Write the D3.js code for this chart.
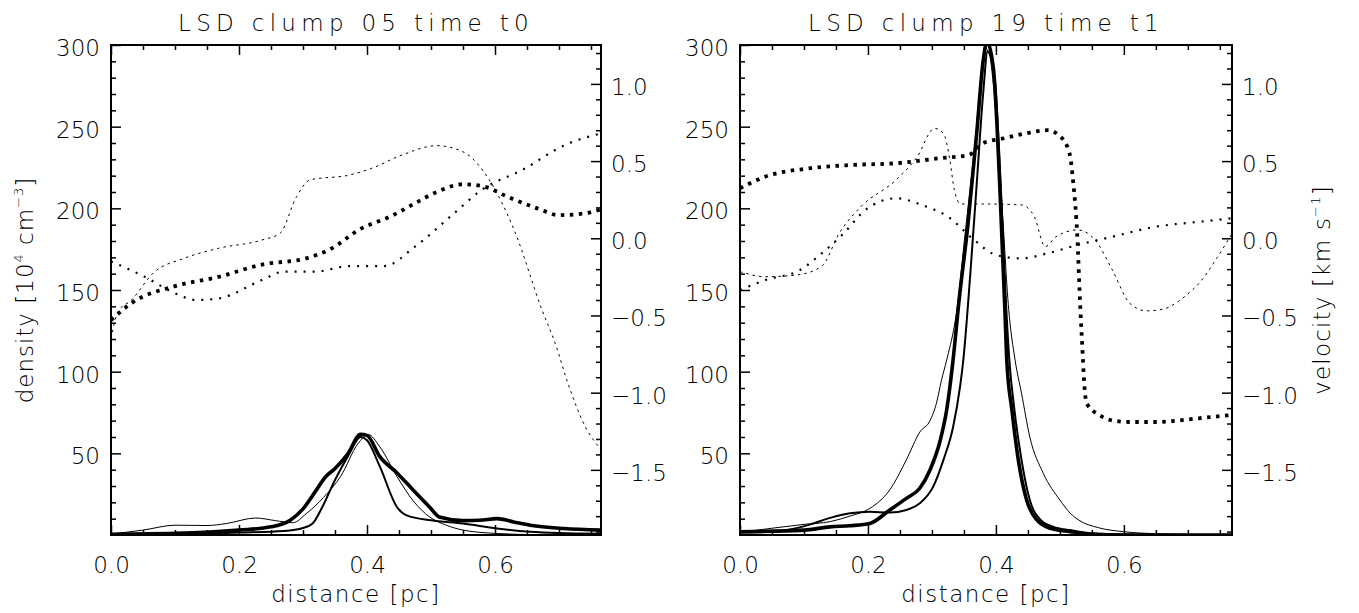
<!DOCTYPE html>
<html>
<head>
<meta charset="utf-8">
<script src="https://cdn.jsdelivr.net/npm/d3@7"></script>
<style>
  body { margin: 0; background: #fff; }
  text { font-family: "DejaVu Sans", sans-serif; font-weight: 200; fill: #000; }
</style>
</head>
<body>
<div id="chart"></div>
<script>
// ---- data: [distance pc, value] ----
var titles = ["LSD clump 05 time t0", "LSD clump 19 time t1"];

var xMajor = [0, 0.2, 0.4, 0.6];
var densMajor = [50, 100, 150, 200, 250, 300];
var velMajor = [-1.5, -1.0, -0.5, 0.0, 0.5, 1.0];

// left panel, density [1e4 cm^-3]
var p1DenThick = [[0,0.5],[0.1,1],[0.2,3],[0.25,5],[0.28,9],[0.3,16],[0.32,27],[0.335,35.5],[0.35,40.7],[0.37,49.7],[0.39,61.6],[0.40,61],[0.42,48],[0.447,38],[0.472,27.6],[0.498,17],[0.513,11],[0.55,8.8],[0.576,9],[0.603,10],[0.629,8],[0.655,6],[0.707,4],[0.766,3]];
var p1DenMed = [[0,0.3],[0.1,0.5],[0.2,1.5],[0.27,2.5],[0.3,4.3],[0.315,7],[0.33,17],[0.35,33.7],[0.37,48],[0.39,60],[0.40,58],[0.42,42],[0.447,17],[0.462,12],[0.5,9],[0.55,7],[0.603,4],[0.655,2],[0.7,1.2],[0.766,0.8]];
var p1DenThin = [[0,0.6],[0.05,3],[0.1,6],[0.15,5.8],[0.18,7],[0.226,10.4],[0.257,8.8],[0.284,7.5],[0.305,13],[0.332,23],[0.359,36],[0.386,56],[0.402,61.5],[0.42,54],[0.447,35.7],[0.472,21],[0.498,11],[0.524,6],[0.55,3],[0.6,1],[0.65,0.3],[0.7,0.1],[0.766,0]];

// left panel, velocity [km/s]
var p1VelThick = [[0,-0.53],[0.032,-0.42],[0.1,-0.31],[0.168,-0.25],[0.236,-0.17],[0.305,-0.13],[0.345,-0.065],[0.387,0.054],[0.441,0.15],[0.475,0.227],[0.509,0.30],[0.55,0.35],[0.584,0.334],[0.619,0.27],[0.666,0.194],[0.7,0.15],[0.741,0.162],[0.766,0.188]];
var p1VelMed = [[0,-0.15],[0.053,-0.25],[0.1,-0.356],[0.134,-0.4],[0.168,-0.39],[0.236,-0.27],[0.27,-0.216],[0.318,-0.216],[0.373,-0.18],[0.427,-0.18],[0.475,-0.054],[0.536,0.162],[0.578,0.31],[0.646,0.45],[0.707,0.60],[0.766,0.68]];
var p1VelThin = [[0,-0.65],[0.011,-0.475],[0.032,-0.4],[0.066,-0.225],[0.114,-0.13],[0.168,-0.065],[0.236,-0.011],[0.264,0.032],[0.29,0.27],[0.311,0.378],[0.373,0.41],[0.407,0.453],[0.455,0.54],[0.509,0.60],[0.55,0.56],[0.591,0.378],[0.632,0.032],[0.673,-0.46],[0.694,-0.68],[0.714,-0.94],[0.741,-1.22],[0.766,-1.37]];

// right panel, density
var p2DenThick = [[0,2],[0.1,3],[0.141,5],[0.172,5.7],[0.203,7.1],[0.234,15.3],[0.26,22.4],[0.281,28.6],[0.297,39.8],[0.313,58],[0.323,76.5],[0.333,107],[0.3425,144],[0.356,189],[0.37,246],[0.38,290],[0.386,302],[0.396,286],[0.406,214],[0.414,138],[0.417,107],[0.425,76.5],[0.435,46],[0.448,21.4],[0.464,9.2],[0.485,4.1],[0.516,2],[0.55,0.5],[0.6,0],[0.769,0]];
var p2DenMed = [[0,1.6],[0.05,2],[0.08,3.5],[0.11,6.5],[0.141,10.5],[0.172,13.3],[0.203,14.3],[0.234,13.7],[0.26,15.3],[0.281,19.4],[0.302,29.6],[0.318,46],[0.333,66],[0.344,91],[0.349,107],[0.36,160],[0.37,215],[0.38,270],[0.387,296],[0.398,280],[0.408,210],[0.416,140],[0.421,107],[0.429,76.5],[0.44,46],[0.453,21.4],[0.47,9.2],[0.49,5],[0.516,3],[0.55,1],[0.6,0.3],[0.769,0]];
var p2DenThin = [[0,1.6],[0.1,6.5],[0.141,8.2],[0.172,11.6],[0.203,16.3],[0.234,27.6],[0.26,46],[0.281,63],[0.297,70],[0.307,80.6],[0.315,95],[0.323,107],[0.339,138],[0.352,185],[0.366,235],[0.379,287],[0.384,298],[0.39,294],[0.396,276],[0.409,205],[0.42,138],[0.43,107],[0.44,86.8],[0.453,60],[0.474,37.8],[0.5,21.4],[0.516,13.4],[0.53,9],[0.56,4.5],[0.6,2],[0.65,0.8],[0.7,0.3],[0.769,0]];

// right panel, velocity
var p2VelThick = [[0,0.324],[0.04,0.40],[0.108,0.453],[0.176,0.475],[0.244,0.486],[0.311,0.518],[0.358,0.54],[0.379,0.615],[0.413,0.648],[0.447,0.68],[0.481,0.70],[0.501,0.658],[0.515,0.55],[0.521,0.356],[0.527,0.03],[0.532,-0.46],[0.535,-0.7],[0.538,-0.94],[0.542,-1.07],[0.562,-1.145],[0.582,-1.18],[0.609,-1.19],[0.65,-1.19],[0.717,-1.166],[0.769,-1.144]];
var p2VelMed = [[0,-0.335],[0.04,-0.27],[0.094,-0.205],[0.128,-0.097],[0.162,0.032],[0.196,0.183],[0.244,0.259],[0.284,0.216],[0.325,0.14],[0.366,-0.011],[0.4,-0.108],[0.44,-0.13],[0.481,-0.097],[0.528,-0.043],[0.582,0.01],[0.65,0.075],[0.718,0.107],[0.769,0.13]];
var p2VelThin = [[0,-0.216],[0.04,-0.249],[0.088,-0.238],[0.128,-0.18],[0.155,0.032],[0.189,0.205],[0.244,0.378],[0.277,0.528],[0.304,0.712],[0.318,0.68],[0.328,0.507],[0.335,0.313],[0.345,0.222],[0.379,0.222],[0.44,0.216],[0.46,0.14],[0.477,-0.054],[0.494,0.01],[0.528,0.054],[0.555,-0.011],[0.582,-0.205],[0.609,-0.42],[0.635,-0.47],[0.66,-0.46],[0.7,-0.36],[0.72,-0.28],[0.745,-0.13],[0.769,0.03]];

// ---- layout ----
var W = 1359, H = 613;
var plotTop = 45, plotBottom = 535;
var panels = [
  {left: 111, right: 601, xmax: 0.7656, title: titles[0],
   den: [p1DenThin, p1DenMed, p1DenThick], vel: [p1VelThin, p1VelMed, p1VelThick]},
  {left: 740, right: 1232, xmax: 0.769, title: titles[1],
   den: [p2DenThin, p2DenMed, p2DenThick], vel: [p2VelThin, p2VelMed, p2VelThick]}
];

// thin, medium, thick
var solidStyle = [{w: 1}, {w: 2}, {w: 3.6}];
var dotStyle = [{w: 1, dash: "2.5 4"}, {w: 2.2, dash: "2 7"}, {w: 3.8, dash: "3.5 5.5"}];

var svg = d3.select("#chart").append("svg")
    .attr("width", W)
    .attr("height", H);

var yDen = d3.scaleLinear().domain([0, 300]).range([plotBottom, plotTop]);
var yVel = d3.scaleLinear().domain([-1.922, 1.252]).range([plotBottom, plotTop]);

panels.forEach(function(p, i) {
  var x = d3.scaleLinear().domain([0, p.xmax]).range([p.left, p.right]);
  var g = svg.append("g");

  g.append("clipPath").attr("id", "clip" + i)
    .append("rect")
    .attr("x", p.left).attr("y", plotTop)
    .attr("width", p.right - p.left).attr("height", plotBottom - plotTop);

  var plot = g.append("g").attr("clip-path", "url(#clip" + i + ")");

  var lineDen = d3.line().curve(d3.curveMonotoneX)
    .x(function(d) { return x(d[0]); })
    .y(function(d) { return yDen(d[1]); });
  var lineVel = d3.line().curve(d3.curveMonotoneX)
    .x(function(d) { return x(d[0]); })
    .y(function(d) { return yVel(d[1]); });

  p.vel.forEach(function(s, k) {
    plot.append("path").attr("d", lineVel(s))
      .attr("fill", "none").attr("stroke", "#000")
      .attr("stroke-width", dotStyle[k].w)
      .attr("stroke-dasharray", dotStyle[k].dash);
  });
  p.den.forEach(function(s, k) {
    plot.append("path").attr("d", lineDen(s))
      .attr("fill", "none").attr("stroke", "#000")
      .attr("stroke-width", solidStyle[k].w)
      .attr("stroke-linejoin", "round");
  });

  // x ticks, bottom and top, pointing inward
  var xMinor = d3.range(0, p.xmax, 0.05).filter(function(v) { return xMajor.indexOf(Math.round(v * 100) / 100) < 0; });
  g.append("g").attr("transform", "translate(0," + plotBottom + ")")
    .call(d3.axisBottom(x).tickValues(xMinor).tickSize(-5).tickSizeOuter(0).tickFormat(""));
  g.append("g").attr("transform", "translate(0," + plotBottom + ")")
    .call(d3.axisBottom(x).tickValues(xMajor).tickSize(-10).tickSizeOuter(0).tickPadding(22).tickFormat(d3.format(".1f")));
  g.append("g").attr("transform", "translate(0," + plotTop + ")")
    .call(d3.axisTop(x).tickValues(xMinor).tickSize(-5).tickSizeOuter(0).tickFormat(""));
  g.append("g").attr("transform", "translate(0," + plotTop + ")")
    .call(d3.axisTop(x).tickValues(xMajor).tickSize(-10).tickSizeOuter(0).tickFormat(""));

  // density axis on the left
  var denMinor = d3.range(10, 300, 10).filter(function(v) { return v % 50 != 0; });
  g.append("g").attr("transform", "translate(" + p.left + ",0)")
    .call(d3.axisLeft(yDen).tickValues(denMinor).tickSize(-5).tickSizeOuter(0).tickFormat(""));
  g.append("g").attr("class", "denAxis").attr("transform", "translate(" + p.left + ",0)")
    .call(d3.axisLeft(yDen).tickValues(densMajor).tickSize(-10).tickSizeOuter(0).tickPadding(11).tickFormat(d3.format("d")));

  // velocity axis on the right
  var velMinor = d3.range(-19, 13).map(function(v) { return v / 10; }).filter(function(v) { return Math.round(v * 10) % 5 != 0; });
  g.append("g").attr("transform", "translate(" + p.right + ",0)")
    .call(d3.axisRight(yVel).tickValues(velMinor).tickSize(-5).tickSizeOuter(0).tickFormat(""));
  g.append("g").attr("class", "velAxis").attr("transform", "translate(" + p.right + ",0)")
    .call(d3.axisRight(yVel).tickValues(velMajor).tickSize(-10).tickSizeOuter(0).tickPadding(10).tickFormat(d3.format(".1f")));

  g.selectAll(".domain").remove();
  g.selectAll(".tick line").attr("stroke", "#000").attr("stroke-width", 1.5);
  g.selectAll(".tick text").attr("font-size", 23).attr("fill", "#000")
    .attr("font-family", "DejaVu Sans").attr("font-weight", 200);
  g.selectAll(".denAxis .tick text, .velAxis .tick text").attr("dy", "0.45em");

  // frame
  g.append("rect")
    .attr("x", p.left).attr("y", plotTop)
    .attr("width", p.right - p.left).attr("height", plotBottom - plotTop)
    .attr("fill", "none").attr("stroke", "#000").attr("stroke-width", 2);

  // title and x label
  g.append("text").attr("x", (p.left + p.right) / 2).attr("y", 30.5)
    .attr("text-anchor", "middle").attr("font-size", 23).attr("letter-spacing", 5.3)
    .text(p.title);
  g.append("text").attr("x", (p.left + p.right) / 2).attr("y", 602)
    .attr("text-anchor", "middle").attr("font-size", 23).attr("letter-spacing", 1.5)
    .text("distance [pc]");
});

// y axis titles
var dl = svg.append("text")
  .attr("transform", "translate(33,290) rotate(-90)")
  .attr("text-anchor", "middle").attr("font-size", 23).attr("letter-spacing", 1);
dl.append("tspan").text("density [10");
dl.append("tspan").attr("font-size", 13).attr("dy", -10).text("4");
dl.append("tspan").attr("dy", 10).text(" cm");
dl.append("tspan").attr("font-size", 13).attr("dy", -10).text("\u22123");
dl.append("tspan").attr("dy", 10).text("]");

var vl = svg.append("text")
  .attr("transform", "translate(1330,290) rotate(-90)")
  .attr("text-anchor", "middle").attr("font-size", 23).attr("letter-spacing", 1.2);
vl.append("tspan").text("velocity [km s");
vl.append("tspan").attr("font-size", 13).attr("dy", -10).text("\u22121");
vl.append("tspan").attr("dy", 10).text("]");
</script>
</body>
</html>
